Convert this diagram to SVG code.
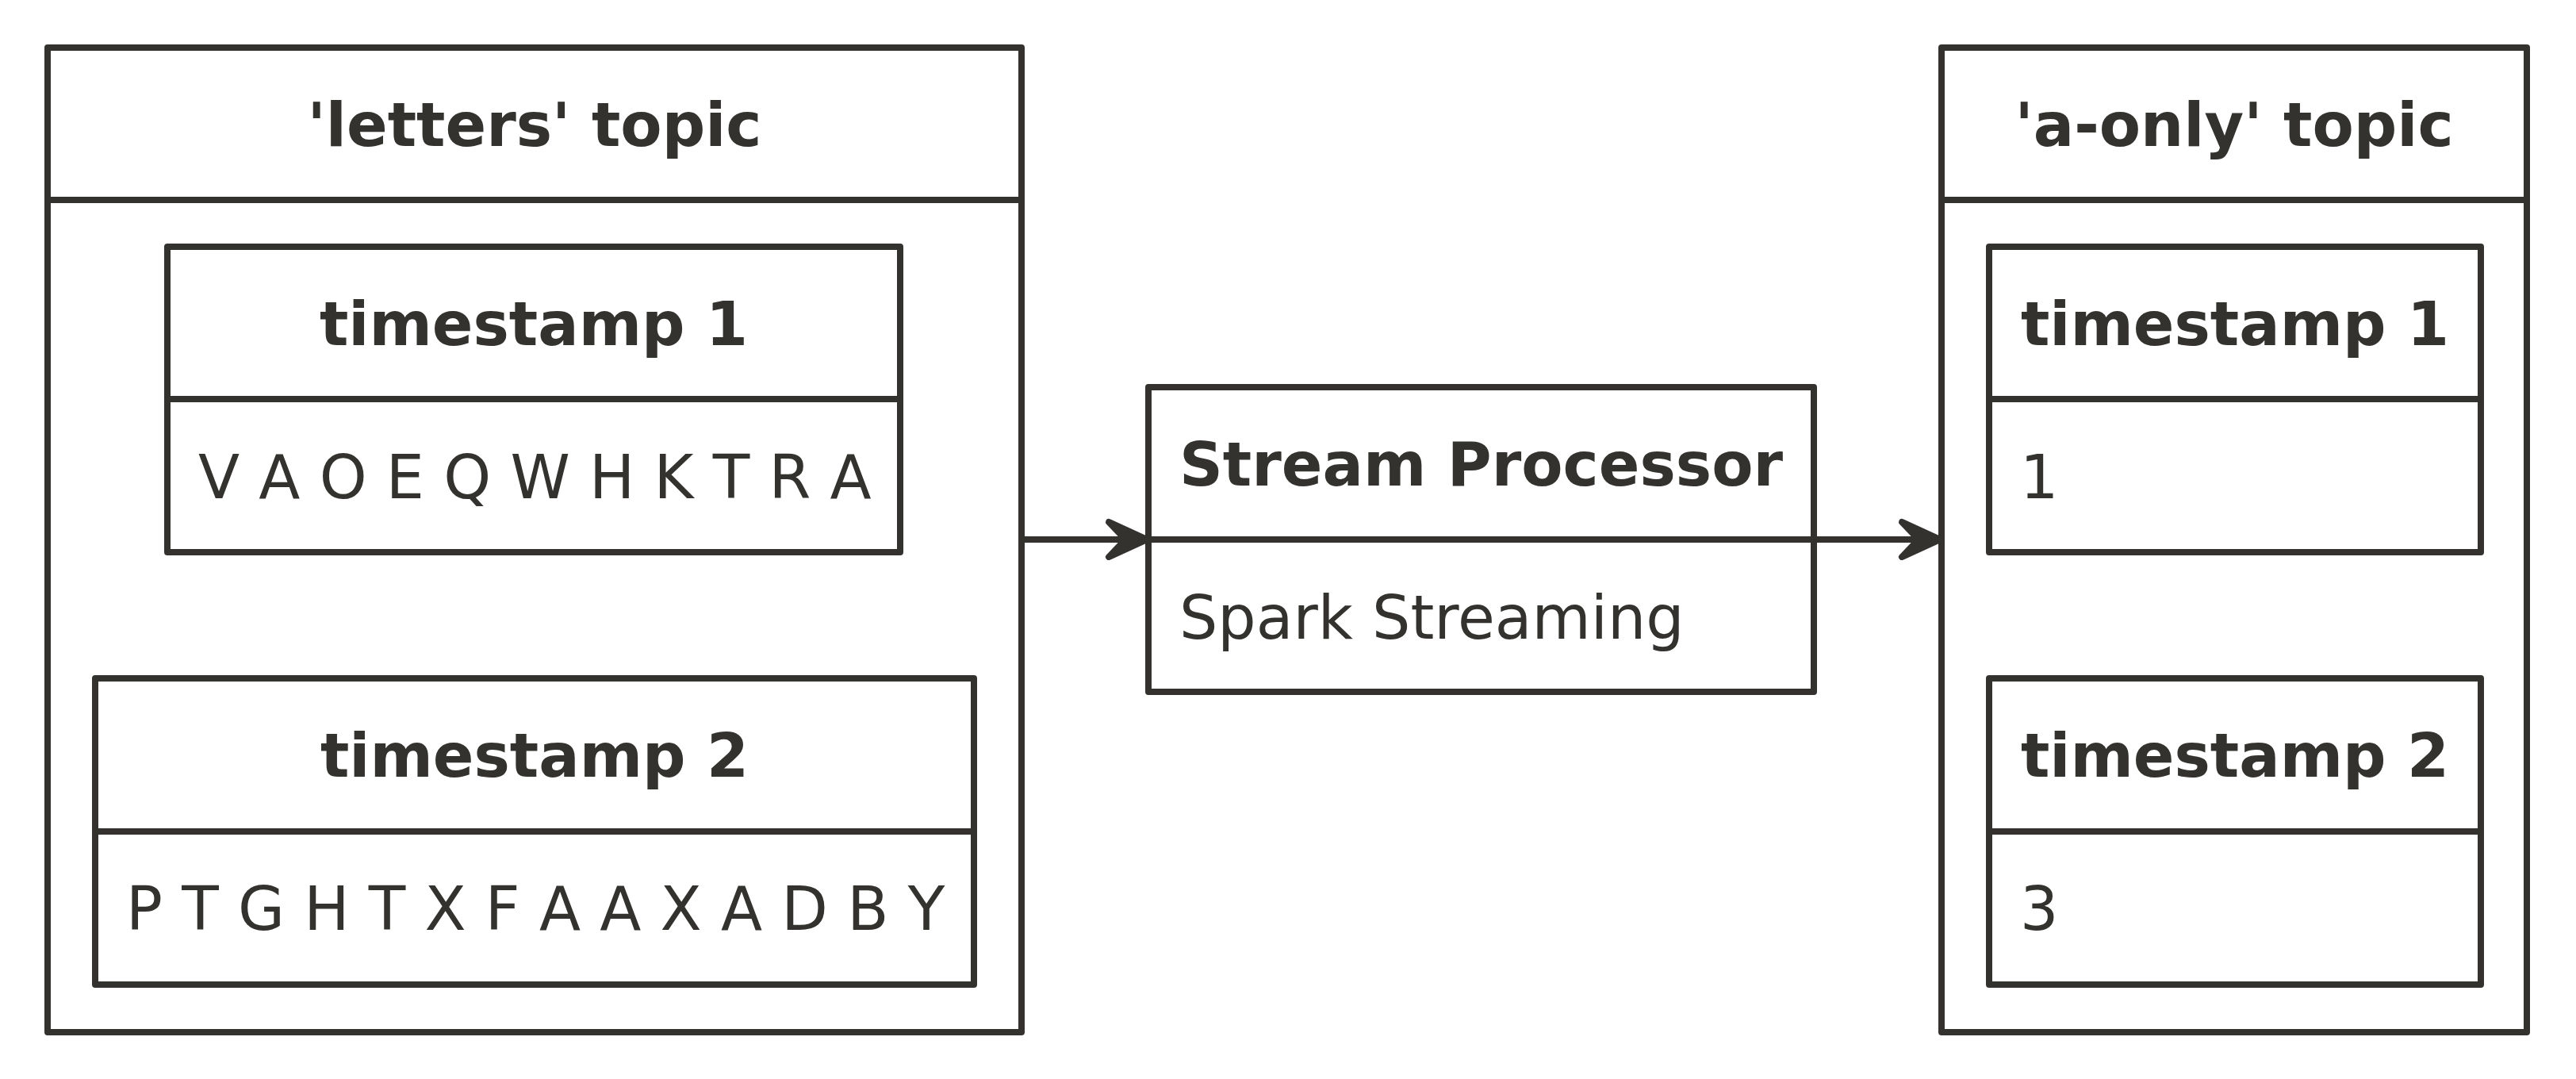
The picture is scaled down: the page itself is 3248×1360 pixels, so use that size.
<svg xmlns="http://www.w3.org/2000/svg" width="3248" height="1360" viewBox="0 0 3248 1360">
<style>
.box{fill:#FFFFFF;stroke:#33322E;stroke-width:8;stroke-linejoin:round}
.ln{stroke:#33322E;stroke-width:8;fill:none}
.t{font-family:"DejaVu Sans",sans-serif;font-size:76.2px;fill:#33322E}
.b{font-weight:bold}
.c{text-anchor:middle}
.ah{fill:#33322E;stroke:#33322E;stroke-width:8;stroke-linejoin:round}
</style>
<rect width="3248" height="1360" fill="#FFFFFF"/>
<g id="letters-topic">
<rect class="box" x="60" y="60" width="1228" height="1241"/>
<line class="ln" x1="60" y1="252" x2="1288" y2="252"/>
<text class="t b c" x="674" y="184">'letters' topic</text>
</g>
<g id="letters-ts1">
<rect class="box" x="211" y="311" width="924" height="385"/>
<line class="ln" x1="211" y1="503" x2="1135" y2="503"/>
<text class="t b c" x="673" y="435">timestamp 1</text>
<text class="t" x="250" y="628">V A O E Q W H K T R A</text>
</g>
<g id="letters-ts2">
<rect class="box" x="120" y="855" width="1108" height="386"/>
<line class="ln" x1="120" y1="1048" x2="1228" y2="1048"/>
<text class="t b c" x="674" y="979">timestamp 2</text>
<text class="t" x="159" y="1172">P T G H T X F A A X A D B Y</text>
</g>
<g id="stream-processor">
<rect class="box" x="1448" y="488" width="839" height="384"/>
<line class="ln" x1="1448" y1="680" x2="2287" y2="680"/>
<text class="t b" x="1487" y="612">Stream Processor</text>
<text class="t" x="1487" y="805">Spark Streaming</text>
</g>
<g id="a-only-topic">
<rect class="box" x="2448" y="60" width="738" height="1241"/>
<line class="ln" x1="2448" y1="252" x2="3186" y2="252"/>
<text class="t b c" x="2817" y="184">'a-only' topic</text>
</g>
<g id="a-only-ts1">
<rect class="box" x="2508" y="311" width="620" height="385"/>
<line class="ln" x1="2508" y1="503" x2="3128" y2="503"/>
<text class="t b c" x="2818" y="435">timestamp 1</text>
<text class="t" x="2547" y="628">1</text>
</g>
<g id="a-only-ts2">
<rect class="box" x="2508" y="855" width="620" height="386"/>
<line class="ln" x1="2508" y1="1048" x2="3128" y2="1048"/>
<text class="t b c" x="2818" y="979">timestamp 2</text>
<text class="t" x="2547" y="1172">3</text>
</g>
<g id="connectors">
<line class="ln" x1="1288" y1="680" x2="1430" y2="680"/>
<polygon class="ah" points="1446,680 1398,658 1419,680 1398,702"/>
<line class="ln" x1="2287" y1="680" x2="2430" y2="680"/>
<polygon class="ah" points="2446,680 2398,658 2419,680 2398,702"/>
</g>
</svg>
